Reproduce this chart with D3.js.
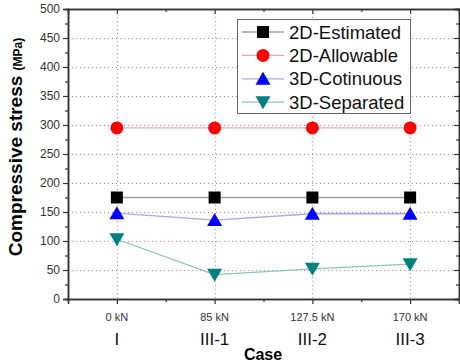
<!DOCTYPE html>
<html>
<head>
<meta charset="utf-8">
<script src="https://cdn.jsdelivr.net/npm/d3@7"></script>
<style>
  body { margin: 0; background: #fff; }
  svg { display: block; font-family: Arial, "Liberation Sans", sans-serif; }
</style>
</head>
<body>
<script>
// chart data
const cases = ["I", "III-1", "III-2", "III-3"];
const loads = ["0 kN", "85 kN", "127.5 kN", "170 kN"];
const est2d = [175, 175, 175, 175];
const allow2d = [295, 295, 295, 295];
const cont3d = [148, 136, 147, 147];
const sep3d = [103, 42, 52, 60];
const yTicks = [0, 50, 100, 150, 200, 250, 300, 350, 400, 450, 500];

const series = [
  { name: "2D-Estimated", values: est2d, line: "#a0a0a0", fill: "#000", shape: "square" },
  { name: "2D-Allowable", values: allow2d, line: "#e8a8a8", fill: "#ff0000", shape: "circle" },
  { name: "3D-Cotinuous", values: cont3d, line: "#a8a8e0", fill: "#0000ff", shape: "up" },
  { name: "3D-Separated", values: sep3d, line: "#88c8b8", fill: "#008080", shape: "down" }
];

const W = 460, H = 364;
const mLeft = 68, mRight = 459, mTop = 9, mBottom = 299;

const svg = d3.select("body").append("svg")
  .attr("width", W)
  .attr("height", H);

const x = d3.scaleLinear().domain([0.5, 4.5]).range([mLeft, mRight]);
const y = d3.scaleLinear().domain([0, 500]).range([mBottom, mTop]);

// grid
const grid = svg.append("g")
  .attr("stroke", "#e070b0")
  .attr("stroke-width", 1)
  .attr("stroke-dasharray", "1,3");
grid.selectAll("line.h")
  .data(yTicks.filter(d => d > 0 && d < 500))
  .enter().append("line")
  .attr("x1", mLeft).attr("x2", mRight)
  .attr("y1", d => Math.round(y(d)) + 0.5)
  .attr("y2", d => Math.round(y(d)) + 0.5);
grid.selectAll("line.v")
  .data(d3.range(1, 5))
  .enter().append("line")
  .attr("y1", mTop).attr("y2", mBottom)
  .attr("x1", d => Math.round(x(d)) + 0.5)
  .attr("x2", d => Math.round(x(d)) + 0.5);

// axes
const minorY = d3.range(25, 500, 50);
const majorX = d3.range(1, 5);
const minorX = d3.range(1.5, 4.5, 1);

const yAxis = svg.append("g")
  .attr("transform", `translate(${mLeft},0)`)
  .call(d3.axisLeft(y).tickValues(yTicks).tickSize(5).tickPadding(3));
yAxis.selectAll("text").attr("font-size", 12).attr("fill", "#333");
svg.append("g")
  .attr("transform", `translate(${mLeft},0)`)
  .call(d3.axisLeft(y).tickValues(minorY).tickSize(3).tickFormat(""));

svg.append("g")
  .attr("transform", `translate(${mRight},0)`)
  .call(d3.axisLeft(y).tickValues(yTicks).tickSize(5).tickFormat(""));
svg.append("g")
  .attr("transform", `translate(${mRight},0)`)
  .call(d3.axisLeft(y).tickValues(minorY).tickSize(3).tickFormat(""));

svg.append("g")
  .attr("transform", `translate(0,${mBottom})`)
  .call(d3.axisBottom(x).tickValues(majorX).tickSize(5).tickFormat(""));
svg.append("g")
  .attr("transform", `translate(0,${mBottom})`)
  .call(d3.axisBottom(x).tickValues(minorX).tickSize(3).tickFormat(""));
svg.append("g")
  .attr("transform", `translate(0,${mTop})`)
  .call(d3.axisBottom(x).tickValues(majorX).tickSize(5).tickFormat(""));
svg.append("g")
  .attr("transform", `translate(0,${mTop})`)
  .call(d3.axisBottom(x).tickValues(minorX).tickSize(3).tickFormat(""));

svg.selectAll(".domain").attr("stroke", "#333").attr("stroke-width", 1.5);
svg.selectAll(".tick line").attr("stroke", "#333").attr("stroke-width", 1.2);

// x category labels
svg.append("g").selectAll("text")
  .data(loads)
  .enter().append("text")
  .attr("x", (d, i) => x(i + 1))
  .attr("y", 321)
  .attr("text-anchor", "middle")
  .attr("font-size", 11)
  .attr("fill", "#333")
  .text(d => d);
svg.append("g").selectAll("text")
  .data(cases)
  .enter().append("text")
  .attr("x", (d, i) => x(i + 1))
  .attr("y", 345)
  .attr("text-anchor", "middle")
  .attr("font-size", 17)
  .attr("fill", "#111")
  .text(d => d);

svg.append("text")
  .attr("x", 263).attr("y", 360)
  .attr("text-anchor", "middle")
  .attr("font-size", 16)
  .attr("font-weight", "bold")
  .text("Case");

const yl = svg.append("text")
  .attr("transform", "translate(22,147) rotate(-90)")
  .attr("text-anchor", "middle")
  .attr("font-weight", "bold");
yl.append("tspan").attr("font-size", 19).text("Compressive stress ");
yl.append("tspan").attr("font-size", 12).text("(MPa)");

// marker drawing
function marker(g, shape, fill, cx, cy) {
  if (shape === "square") {
    g.append("rect").attr("x", cx - 6).attr("y", cy - 6)
      .attr("width", 12).attr("height", 12).attr("fill", fill);
  } else if (shape === "circle") {
    g.append("circle").attr("cx", cx).attr("cy", cy).attr("r", 6.5).attr("fill", fill);
  } else if (shape === "up") {
    g.append("path").attr("d", `M${cx},${cy - 7}L${cx + 7.5},${cy + 6}L${cx - 7.5},${cy + 6}Z`).attr("fill", fill);
  } else {
    g.append("path").attr("d", `M${cx},${cy + 7}L${cx + 7.5},${cy - 6}L${cx - 7.5},${cy - 6}Z`).attr("fill", fill);
  }
}

const line = d3.line().x((d, i) => x(i + 1)).y(d => y(d));

series.forEach(s => {
  const g = svg.append("g");
  g.append("path")
    .attr("d", line(s.values))
    .attr("fill", "none")
    .attr("stroke", s.line)
    .attr("stroke-width", 1.3);
  s.values.forEach((v, i) => marker(g, s.shape, s.fill, x(i + 1), y(v)));
});

// legend
const lg = svg.append("g");
lg.append("rect")
  .attr("x", 237.5).attr("y", 19.5)
  .attr("width", 173).attr("height", 94)
  .attr("fill", "#fff")
  .attr("stroke", "#666")
  .attr("stroke-width", 1);
series.forEach((s, i) => {
  const cy = 32 + i * 23.4;
  const g = lg.append("g");
  g.append("line")
    .attr("x1", 242).attr("x2", 284)
    .attr("y1", cy).attr("y2", cy)
    .attr("stroke", s.line).attr("stroke-width", 1.3);
  marker(g, s.shape, s.fill, 263, cy);
  g.append("text")
    .attr("x", 289).attr("y", cy + 6.5)
    .attr("font-size", 18.5)
    .attr("fill", "#111")
    .text(s.name);
});
</script>
</body>
</html>
